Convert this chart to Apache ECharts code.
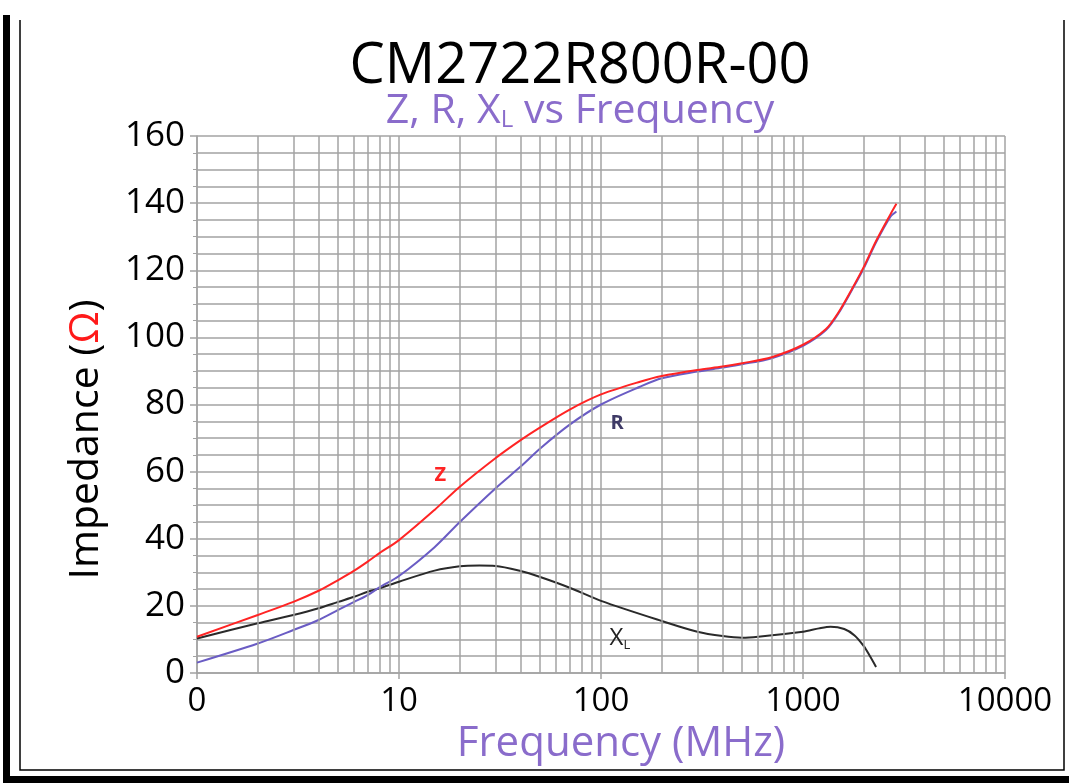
<!DOCTYPE html>
<html>
<head>
<meta charset="utf-8">
<script src="https://cdn.jsdelivr.net/npm/echarts@6/dist/echarts.min.js"></script>
<style>
  html, body { margin: 0; padding: 0; background: #fff; }
  #chart { width: 1069px; height: 783px; }
</style>
</head>
<body>
<div id="chart"></div>
<script>
// Z 曲线（红）
const freqZR = [1, 2, 3, 4, 5, 6, 7, 8, 10, 15, 20, 30, 40, 50, 70, 100, 156, 200, 300, 400, 500, 700, 1000, 1300, 1500, 1750, 2000, 2300, 2700, 2900];
const zValues = [10.8, 17.3, 21.2, 24.5, 27.7, 30.5, 33.2, 35.7, 39.6, 48.6, 55.5, 64.0, 69.4, 73.2, 78.5, 83.0, 86.8, 88.5, 90.3, 91.3, 92.3, 94.1, 97.8, 102.5, 107.5, 114.5, 121.0, 128.7, 136.5, 139.8];
// R 曲线（紫）
const rValues = [3.1, 8.8, 12.8, 15.8, 18.8, 21.2, 23.2, 25.5, 28.9, 37.5, 45.0, 55.0, 61.5, 66.9, 74.0, 80.0, 85.3, 87.8, 89.8, 91.0, 92.0, 93.8, 97.5, 102.2, 107.2, 114.2, 120.6, 128.3, 135.8, 137.5];
// XL 曲线（黑）
const freqXL = [1, 2, 3, 4, 5, 6, 7, 8, 10, 15, 20, 25, 30, 40, 50, 70, 100, 200, 300, 400, 500, 600, 1000, 1200, 1370, 1600, 1800, 2000, 2150, 2300];
const xlValues = [10.3, 14.8, 17.3, 19.3, 21.2, 22.7, 24.2, 25.2, 27.2, 30.5, 31.8, 32.0, 31.9, 30.4, 28.6, 25.4, 21.5, 15.5, 12.3, 11.0, 10.5, 10.8, 12.3, 13.3, 13.8, 13.1, 11.2, 8.0, 4.9, 1.8];
// 对数轴次网格线
const minorFreqs = [2, 3, 4, 5, 6, 7, 8, 9, 20, 30, 40, 50, 60, 70, 80, 90, 200, 300, 400, 500, 600, 700, 800, 900, 2000, 3000, 4000, 5000, 6000, 7000, 8000, 9000];
// 曲线标注位置
const labelZ = [16, 59];
const labelR = [120, 74.5];
const labelXL = [124, 10.5];

const FONT = '"Open Sans", "Noto Sans", sans-serif';
const GRID_COLOR = '#a3a3a3';

const pair = (xs, ys) => xs.map((x, i) => [x, ys[i]]);

// 不可见标记点，只显示文字
const textMark = (coord, label) => ({
  symbol: 'circle',
  symbolSize: 0,
  silent: true,
  itemStyle: { color: 'transparent' },
  label: Object.assign({ show: true, position: 'inside' }, label),
  data: [{ coord: coord }]
});

const chart = echarts.init(document.getElementById('chart'), null, { renderer: 'canvas' });

const option = {
  backgroundColor: '#fff',
  animation: false,
  title: {
    left: 575,
    textAlign: 'center',
    top: 34,
    itemGap: -4,
    text: 'CM2722R800R-00',
    textStyle: { fontFamily: FONT, fontSize: 56, fontWeight: 'normal', color: '#000' },
    subtext: 'Z, R, X{sub|L} vs Frequency',
    subtextStyle: {
      fontFamily: FONT, fontSize: 41, color: '#8a6ccb',
      rich: { sub: { fontFamily: FONT, fontSize: 24, color: '#8a6ccb', verticalAlign: 'bottom', padding: [15, 0, 0, 0] } }
    }
  },
  grid: { left: 197, right: 64, top: 136, bottom: 110, containLabel: false },
  xAxis: {
    type: 'log',
    logBase: 10,
    min: 1,
    max: 10000,
    name: 'Frequency (MHz)',
    nameLocation: 'middle',
    nameGap: 43,
    nameTextStyle: { fontFamily: FONT, fontSize: 42, color: '#8a6ccb', padding: [0, 0, 0, 40] },
    axisLine: { show: true, lineStyle: { color: GRID_COLOR, width: 1.5 } },
    axisTick: { show: true, length: 6, lineStyle: { color: GRID_COLOR, width: 1.5 } },
    axisLabel: {
      fontFamily: FONT, fontSize: 33, color: '#000', margin: 12,
      formatter: v => (v === 1 ? '0' : String(v))
    },
    splitLine: { show: true, lineStyle: { color: GRID_COLOR, width: 1.5 } }
  },
  yAxis: {
    type: 'value',
    min: 0,
    max: 160,
    interval: 20,
    name: 'Impedance ({om|Ω})',
    nameLocation: 'middle',
    nameGap: 90,
    nameTextStyle: {
      fontFamily: FONT, fontSize: 41, color: '#000', padding: [0, 70, 0, 0],
      rich: { om: { fontFamily: FONT, fontSize: 41, color: '#ff1a1a' } }
    },
    axisLine: { show: true, lineStyle: { color: GRID_COLOR, width: 1.5 } },
    axisTick: { show: true, length: 7, lineStyle: { color: GRID_COLOR, width: 1.5 } },
    minorTick: { show: true, splitNumber: 4, length: 4, lineStyle: { color: GRID_COLOR } },
    axisLabel: { fontFamily: FONT, fontSize: 35, color: '#000', margin: 12 },
    splitLine: { show: true, lineStyle: { color: GRID_COLOR, width: 1.5 } },
    minorSplitLine: { show: true, lineStyle: { color: GRID_COLOR, width: 1.5 } }
  },
  series: [
    {
      // 次网格竖线
      name: 'grid',
      type: 'line',
      z: 1,
      data: [[1, -10]],
      symbol: 'none',
      lineStyle: { opacity: 0 },
      silent: true,
      markLine: {
        silent: true,
        symbol: 'none',
        animation: false,
        label: { show: false },
        lineStyle: { color: GRID_COLOR, type: 'solid', width: 1.5 },
        data: minorFreqs.map(f => ({ xAxis: f }))
      }
    },
    {
      name: 'XL',
      type: 'line',
      z: 3,
      smooth: 0.3,
      symbol: 'none',
      lineStyle: { color: '#2a2a2a', width: 2 },
      data: pair(freqXL, xlValues),
      markPoint: textMark(labelXL, {
        formatter: 'X{s|L}', fontFamily: FONT, fontSize: 24, color: '#222',
        rich: { s: { fontFamily: FONT, fontSize: 13, color: '#222', padding: [15, 0, 0, 0] } }
      })
    },
    {
      name: 'R',
      type: 'line',
      z: 4,
      smooth: 0.3,
      symbol: 'none',
      lineStyle: { color: '#6a5cc4', width: 2 },
      data: pair(freqZR, rValues),
      markPoint: textMark(labelR, { formatter: 'R', fontFamily: FONT, fontSize: 20, fontWeight: 'bold', color: '#3e3a66' })
    },
    {
      name: 'Z',
      type: 'line',
      z: 5,
      smooth: 0.3,
      symbol: 'none',
      lineStyle: { color: '#ff2424', width: 2 },
      data: pair(freqZR, zValues),
      markPoint: textMark(labelZ, { formatter: 'Z', fontFamily: FONT, fontSize: 20, fontWeight: 'bold', color: '#ff2424' })
    }
  ],
  graphic: [
    // 外框
    { type: 'rect', silent: true, shape: { x: 3, y: 15, width: 7, height: 768 }, style: { fill: '#000' } },
    { type: 'rect', silent: true, shape: { x: 3, y: 776, width: 1066, height: 7 }, style: { fill: '#000' } },
    { type: 'polyline', silent: true, shape: { points: [[20, 20], [20, 770], [1064, 770], [1064, 20]] }, style: { stroke: '#000', lineWidth: 1.5, fill: null } }
  ]
};

chart.setOption(option);
</script>
</body>
</html>
